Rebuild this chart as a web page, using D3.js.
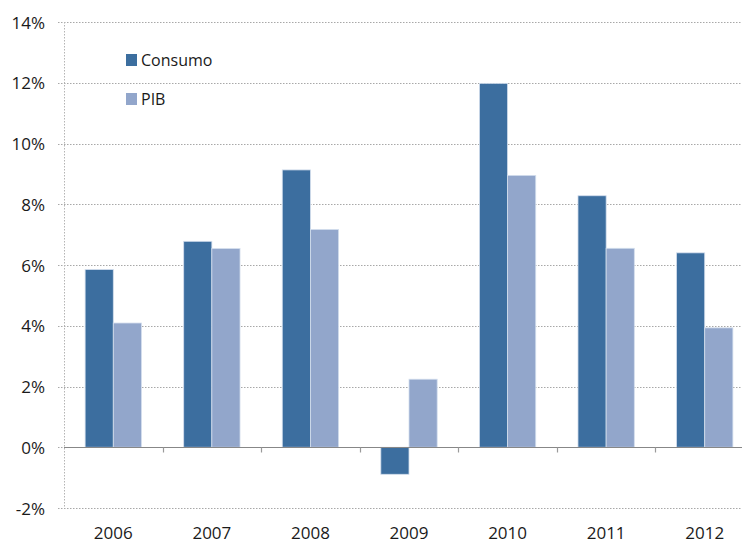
<!DOCTYPE html>
<html>
<head>
<meta charset="utf-8">
<script src="https://cdn.jsdelivr.net/npm/d3@7"></script>
<style>
  html, body { margin: 0; padding: 0; background: #ffffff; }
  svg { display: block; }
  text { font-family: "Open Sans", "Noto Sans", sans-serif; fill: #1a1a1a; }
</style>
</head>
<body>
<svg id="chart" width="742" height="544"></svg>
<script>
// Annual growth rates (%)
const years = ["2006", "2007", "2008", "2009", "2010", "2011", "2012"];
const consumo = [5.85, 6.78, 9.13, -0.89, 11.98, 8.28, 6.40];
const pib = [4.09, 6.54, 7.17, 2.24, 8.95, 6.55, 3.93];
const seriesNames = ["Consumo", "PIB"];
const seriesColors = ["#3c6e9f", "#92a6cb"];
const yTicks = [-2, 0, 2, 4, 6, 8, 10, 12, 14];

const svg = d3.select("#chart");
const plotLeft = 64, plotRight = 754, plotTop = 22, plotBottom = 508;

const y = d3.scaleLinear().domain([-2, 14]).range([plotBottom, plotTop]);
const x = d3.scaleBand().domain(years).range([plotLeft, plotRight]);
// Two bars per category, with a gap of 75% of a bar width on each side
const barW = x.bandwidth() / 3.5;
const inner = d3.scaleBand().domain(seriesNames)
  .range([x.bandwidth() / 2 - barW, x.bandwidth() / 2 + barW]);

// Y tick labels
const yAxis = d3.axisLeft(y).tickValues(yTicks).tickSize(0).tickFormat(d => d + "%");
const gy = svg.append("g").attr("transform", `translate(${plotLeft},0)`).call(yAxis);
gy.select(".domain").remove();
gy.selectAll("text").style("font-size", "17px").attr("dy", "0.36em").attr("x", -19)
  .style("font-family", null).attr("fill", "#1a1a1a");

// Horizontal dotted gridlines with left stubs
svg.append("g").selectAll("line").data(yTicks.filter(d => d !== 0)).join("line")
  .attr("x1", plotLeft - 6).attr("x2", 742)
  .attr("y1", d => Math.round(y(d)) + 0.5).attr("y2", d => Math.round(y(d)) + 0.5)
  .attr("stroke", "#a8a8a8").attr("stroke-width", 1).attr("stroke-dasharray", "1.5,1.5");
svg.append("line")
  .attr("x1", plotLeft - 6).attr("x2", plotLeft)
  .attr("y1", Math.round(y(0)) + 0.5).attr("y2", Math.round(y(0)) + 0.5)
  .attr("stroke", "#a8a8a8").attr("stroke-dasharray", "1.5,1.5");

// Vertical dotted axis line
svg.append("line")
  .attr("x1", plotLeft + 0.5).attr("x2", plotLeft + 0.5)
  .attr("y1", plotTop).attr("y2", plotBottom)
  .attr("stroke", "#b4b4b4").attr("stroke-width", 1).attr("stroke-dasharray", "1.5,1.5");

// Bars
const rows = years.map((yr, i) => ({ year: yr, values: [consumo[i], pib[i]] }));
const groups = svg.append("g").selectAll("g").data(rows).join("g")
  .attr("transform", d => `translate(${x(d.year)},0)`);
groups.selectAll("rect").data(d => d.values.map((v, j) => ({ v, s: seriesNames[j], j })))
  .join("rect")
  .attr("x", d => inner(d.s))
  .attr("width", barW)
  .attr("y", d => y(Math.max(0, d.v)))
  .attr("height", d => Math.abs(y(d.v) - y(0)))
  .attr("fill", d => seriesColors[d.j])
  .attr("stroke", "#d3deed").attr("stroke-width", 0.8);

// Zero line with category tick marks
const zeroY = Math.round(y(0)) + 0.5;
svg.append("line")
  .attr("x1", plotLeft).attr("x2", 742).attr("y1", zeroY).attr("y2", zeroY)
  .attr("stroke", "#878787").attr("stroke-width", 1.2);
svg.append("g").selectAll("line").data(years.slice(1)).join("line")
  .attr("x1", d => Math.round(x(d)) + 0.5).attr("x2", d => Math.round(x(d)) + 0.5)
  .attr("y1", zeroY).attr("y2", zeroY + 5)
  .attr("stroke", "#9a9a9a").attr("stroke-width", 1.2);

// Category labels
svg.append("g").selectAll("text").data(years).join("text")
  .attr("x", d => x(d) + x.bandwidth() / 2)
  .attr("y", 539)
  .attr("text-anchor", "middle")
  .style("font-size", "17px")
  .text(d => d);

// Legend
const legend = svg.append("g").selectAll("g").data(seriesNames).join("g")
  .attr("transform", (d, i) => `translate(126,${54 + i * 39})`);
legend.append("rect").attr("width", 11).attr("height", 12)
  .attr("fill", (d, i) => seriesColors[i]);
legend.append("text").attr("x", 15).attr("y", 6).attr("dy", "0.36em")
  .style("font-size", "16px").text(d => d);
</script>
</body>
</html>
